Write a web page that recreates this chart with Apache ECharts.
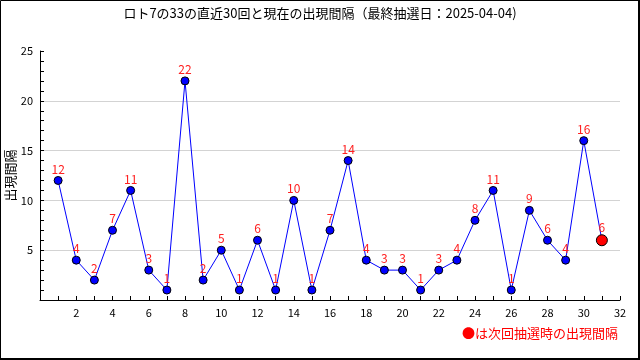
<!DOCTYPE html>
<html><head><meta charset="utf-8">
<script src="https://cdn.jsdelivr.net/npm/echarts@6/dist/echarts.min.js"></script>
<style>html,body{margin:0;padding:0;background:#fff}#c{width:640px;height:360px}</style>
</head><body><div id="c"></div>
<script>
const titleText = 'ロト7の33の直近30回と現在の出現間隔（最終抽選日：2025-04-04)';
const yAxisName = '出現間隔';
const noteText = '●は次回抽選時の出現間隔';
const drawIndex = [1,2,3,4,5,6,7,8,9,10,11,12,13,14,15,16,17,18,19,20,21,22,23,24,25,26,27,28,29,30];
const intervals = [12,4,2,7,11,3,1,22,2,5,1,6,1,10,1,7,14,4,3,3,1,3,4,8,11,1,9,6,4,16];
const currentIndex = 31;
const currentInterval = 6;

const FONT = "'Noto Sans CJK JP', 'DejaVu Sans', sans-serif";
const data = drawIndex.map((x, i) => [x, intervals[i]]);
data.push({
  value: [currentIndex, currentInterval],
  symbolSize: 11,
  itemStyle: { color: '#ff0000', borderColor: '#000', borderWidth: 1 }
});

const chart = echarts.init(document.getElementById('c'), null, { renderer: 'canvas' });
chart.setOption({
  animation: false,
  backgroundColor: '#fff',
  title: {
    text: titleText, left: 'center', top: 2,
    textStyle: { fontSize: 13, fontWeight: 'normal', color: '#000', fontFamily: FONT }
  },
  grid: { left: 40, right: 20, top: 51, bottom: 60, containLabel: false, outerBoundsMode: 'none' },
  xAxis: {
    type: 'value', min: 0, max: 32, interval: 2,
    axisLine: { show: true, lineStyle: { color: '#000', width: 1 } },
    axisTick: { show: true, inside: true, length: 4, lineStyle: { color: '#000' } },
    minorTick: { show: true, splitNumber: 2, length: 4, lineStyle: { color: '#000' } },
    splitLine: { show: false },
    axisLabel: {
      color: '#000', fontSize: 11, fontFamily: FONT, margin: 7,
      formatter: v => (v === 0 ? '' : String(v))
    }
  },
  yAxis: {
    type: 'value', min: 0, max: 25, interval: 5,
    name: yAxisName, nameLocation: 'middle', nameRotate: 90, nameGap: 23, nameMoveOverlap: false,
    nameTextStyle: { color: '#000', fontSize: 13, fontFamily: FONT },
    axisLine: { show: true, lineStyle: { color: '#000', width: 1 } },
    axisTick: { show: true, inside: true, length: 4, lineStyle: { color: '#000' } },
    minorTick: { show: true, splitNumber: 5, length: 4, lineStyle: { color: '#000' } },
    splitLine: { show: true, showMinLine: false, showMaxLine: false, lineStyle: { color: '#d3d3d3', width: 1 } },
    axisLabel: {
      color: '#000', fontSize: 11, fontFamily: FONT, margin: 7,
      formatter: v => (v === 0 ? '' : String(v))
    }
  },
  series: [{
    type: 'line',
    data: data,
    symbol: 'circle',
    symbolSize: 8,
    lineStyle: { color: '#0000ff', width: 1 },
    itemStyle: { color: '#0000ff', borderColor: '#000', borderWidth: 1 },
    label: {
      show: true, position: 'top', distance: 1,
      color: '#ff2020', fontSize: 12, fontFamily: FONT,
      formatter: p => String(p.value[1])
    },
    emphasis: { disabled: true }
  }],
  graphic: [
    { type: 'rect', shape: { x: 0.5, y: 0.5, width: 639, height: 359 },
      style: { fill: 'none', stroke: '#000', lineWidth: 1 }, silent: true },
    { type: 'rect', shape: { x: 638, y: 0, width: 2, height: 360 }, style: { fill: '#000' }, silent: true },
    { type: 'rect', shape: { x: 0, y: 358, width: 640, height: 2 }, style: { fill: '#000' }, silent: true },
    { type: 'text', right: 22, top: 327,
      style: { text: noteText, fill: '#ff0000', fontSize: 13, fontFamily: FONT } }
  ]
});
</script></body></html>
